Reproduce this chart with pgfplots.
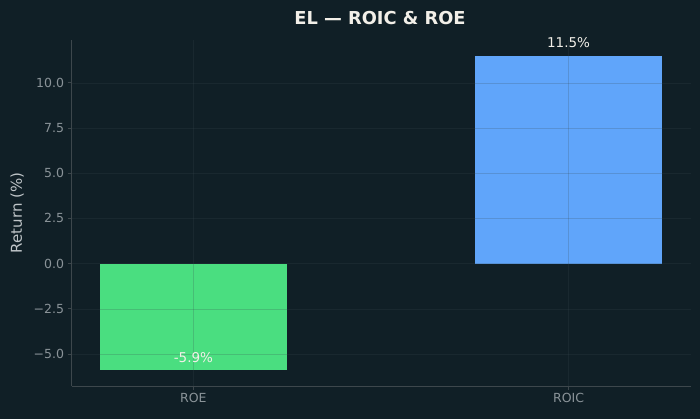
\documentclass[border=0pt]{standalone}
\usepackage{fontspec}
\setmainfont{DejaVu Sans}
\usepackage{pgfplots}
\pgfplotsset{compat=1.18}
\definecolor{bg}{HTML}{101F26}
\definecolor{spine}{HTML}{3D474C}
\definecolor{ticklab}{HTML}{8A9398}
\definecolor{ylab}{HTML}{BFC5C8}
\definecolor{titlec}{HTML}{F2EFE8}
\definecolor{roe}{HTML}{4ADE80}
\definecolor{roic}{HTML}{60A5FA}
\definecolor{gridc}{HTML}{3A4A52}
\begin{document}
\begin{tikzpicture}[x=1pt,y=1pt]
\fill[bg] (0,0) rectangle (700,419);
\useasboundingbox (0,0) rectangle (700,419);
\node[font=\fontsize{17.8}{20}\selectfont\bfseries, text=titlec] at (380,400.5) {EL — ROIC \& ROE};
\begin{axis}[
  at={(71.5pt,33pt)}, anchor=south west,
  scale only axis, width=619pt, height=346pt,
  xmin=-0.325, xmax=1.325, ymin=-6.77, ymax=12.37,
  axis lines*=left,
  axis line style={spine, line width=0.8pt},
  axis on top,
  xtick={0,1}, xticklabels={ROE,ROIC},
  ytick={-5,-2.5,0,2.5,5,7.5,10},
  yticklabels={−5.0,−2.5,0.0,2.5,5.0,7.5,10.0},
  tick label style={font=\fontsize{12.5}{14}\selectfont, text=ticklab},
  /pgf/number format/assume math mode=true,
  major tick length=4pt,
  tick style={spine, line width=0.8pt},
  tick align=outside,
  xmajorgrids, ymajorgrids,
  major grid style={gridc, opacity=0.22, line width=0.6pt},
  ylabel={Return (\%)},
  ylabel style={font=\fontsize{15}{17}\selectfont, text=ylab, xshift=0pt, yshift=3pt},
  ybar, bar width=0.5, bar shift=0pt,
  nodes near coords,
  point meta=explicit symbolic,
  nodes near coords style={font=\fontsize{13.5}{15}\selectfont, text=titlec, anchor=south, yshift=4pt},
]
\addplot[fill=roe, draw=none] coordinates {(0,-5.9) [-5.9\%]};
\addplot[fill=roic, draw=none] coordinates {(1,11.5) [11.5\%]};
\end{axis}
\end{tikzpicture}
\end{document}
